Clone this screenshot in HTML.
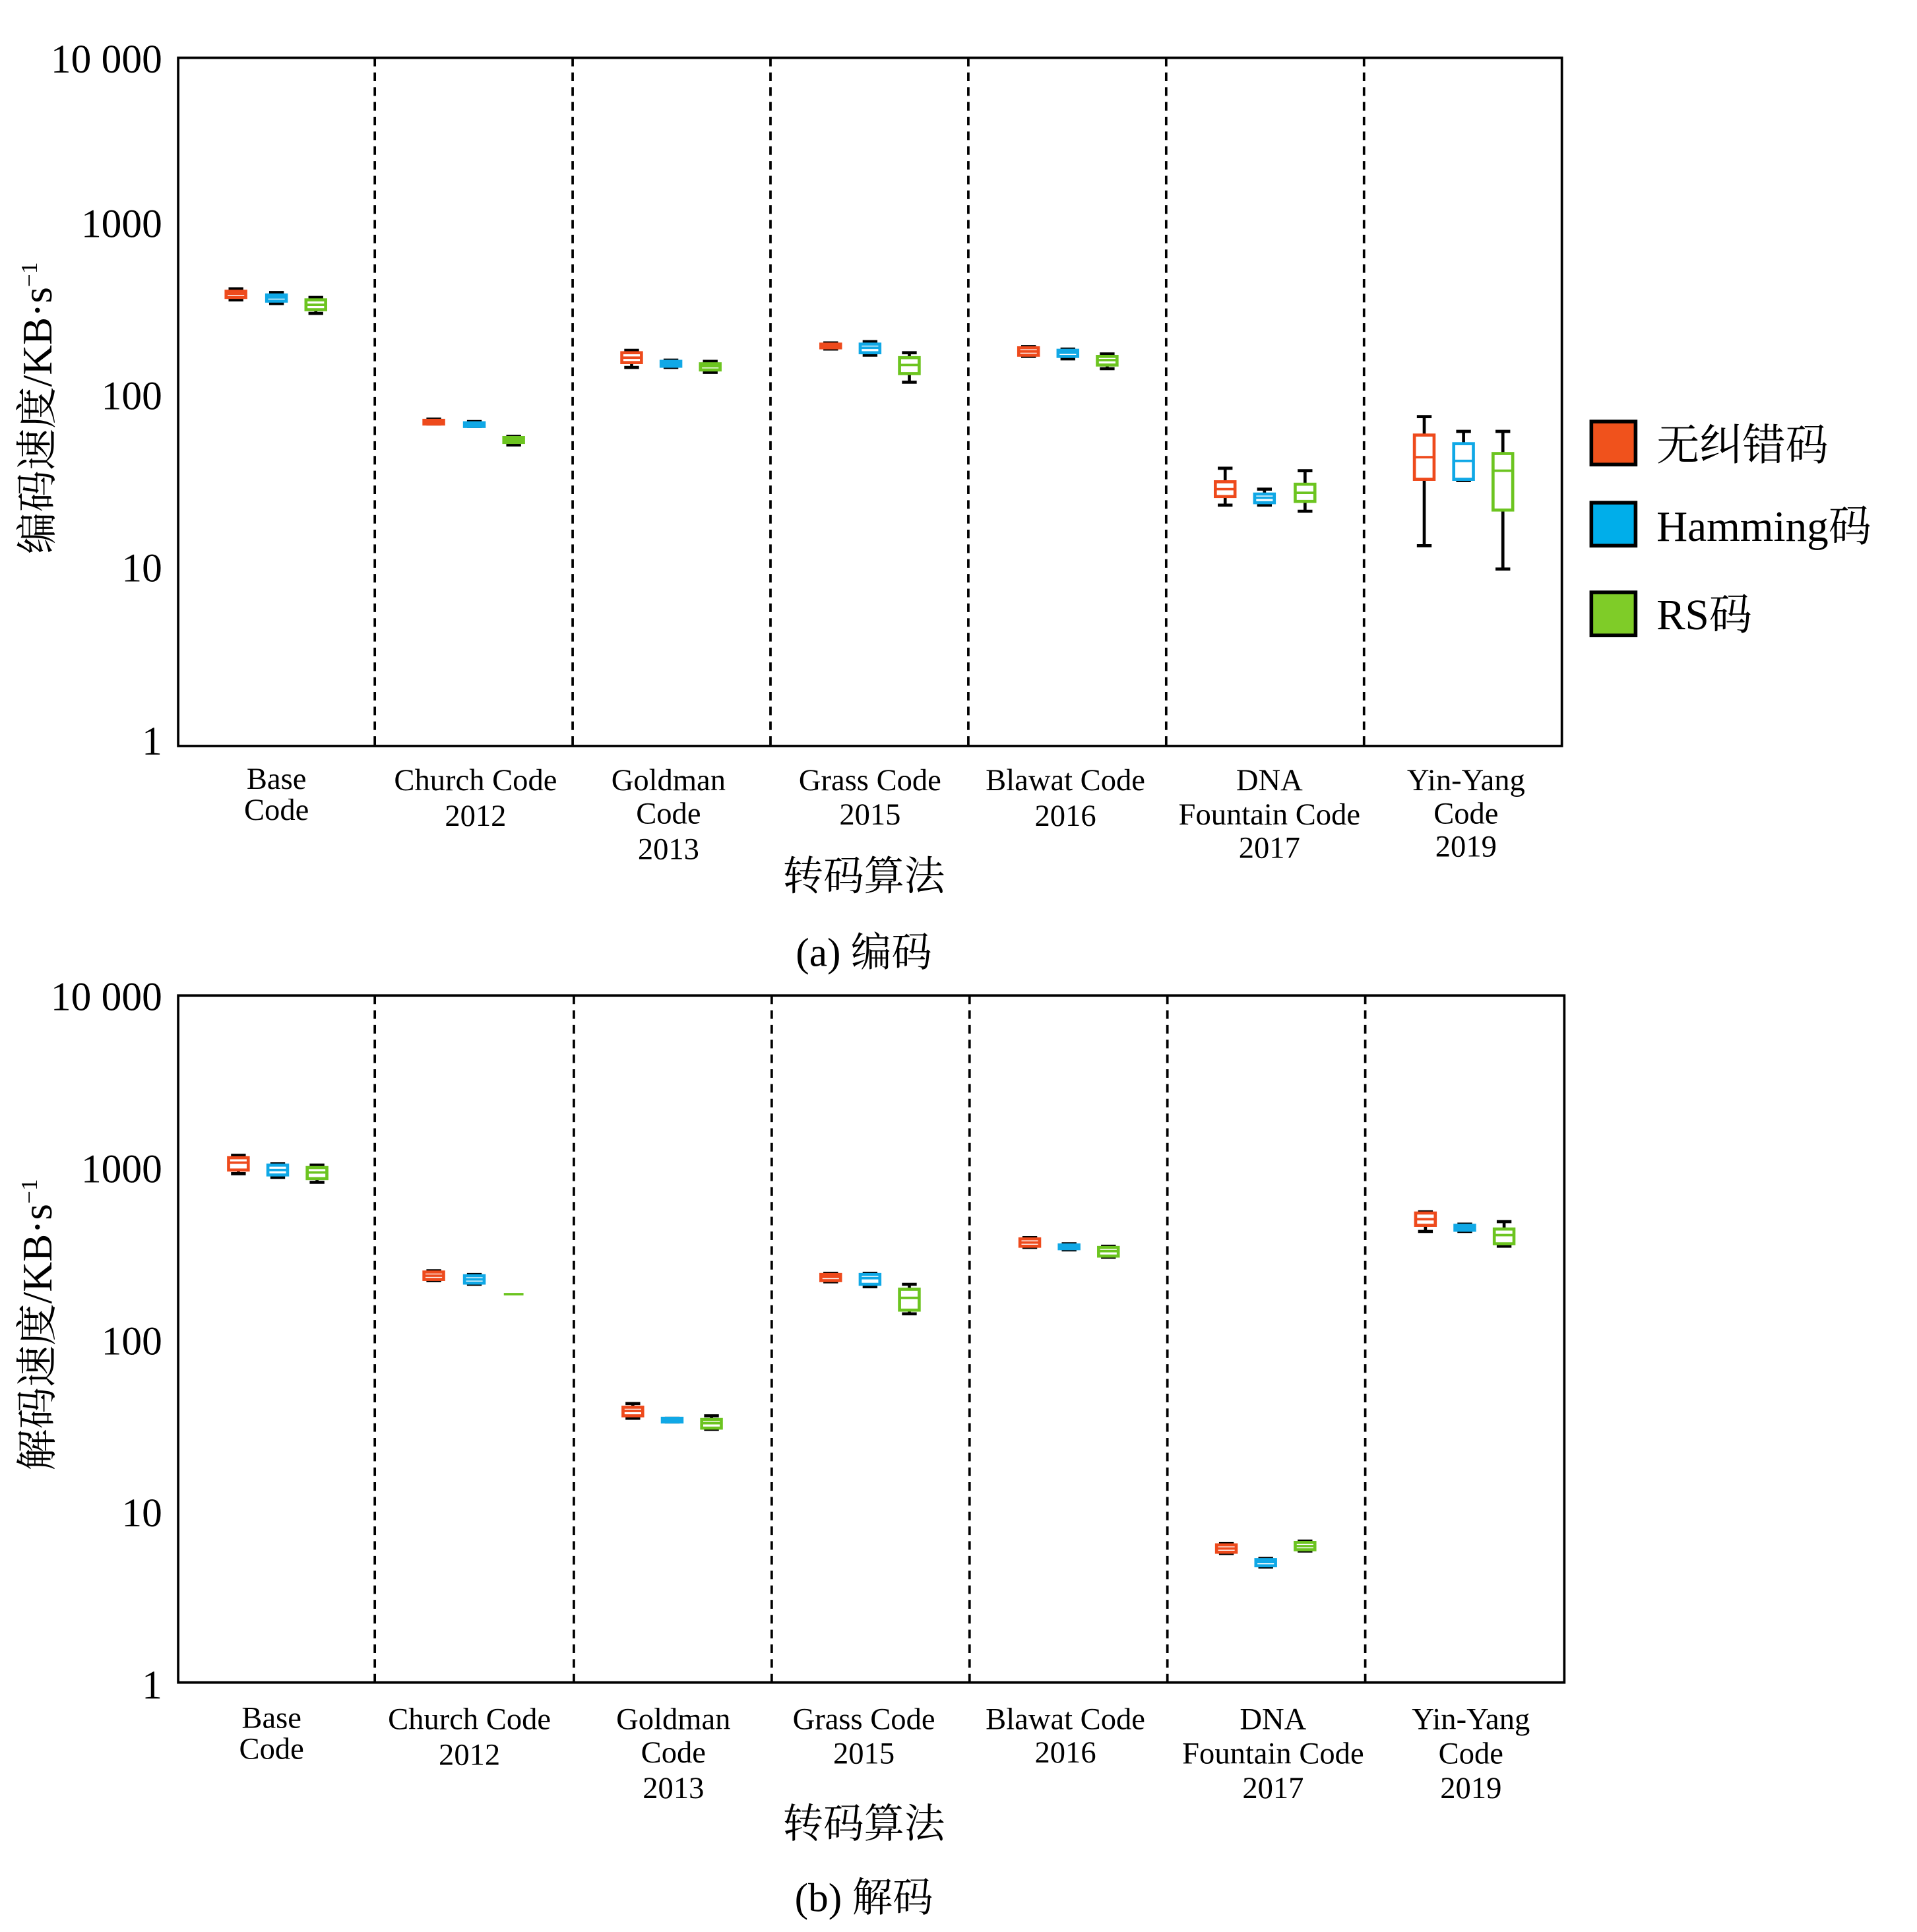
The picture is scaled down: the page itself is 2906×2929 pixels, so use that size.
<!DOCTYPE html>
<html><head><meta charset="utf-8"><style>
html,body{margin:0;padding:0;background:#fff;width:2906px;height:2929px;overflow:hidden}
svg{display:block}
text{font-family:"Liberation Serif","Noto Serif CJK SC","Noto Sans CJK SC",serif;fill:#000}
</style></head><body>
<svg id="s" width="2906" height="2929" viewBox="0 0 1560 1572" preserveAspectRatio="none" xmlns="http://www.w3.org/2000/svg">
<rect width="1560" height="1572" fill="#fff"/>
<!-- Panel a -->
<rect x="145" y="47" width="1126" height="560" fill="none" stroke="#000" stroke-width="2"/>
<g stroke="#000" stroke-width="2" stroke-dasharray="7,5">
<line x1="305" y1="47" x2="305" y2="607"/><line x1="466" y1="47" x2="466" y2="607"/><line x1="627" y1="47" x2="627" y2="607"/><line x1="788" y1="47" x2="788" y2="607"/><line x1="949" y1="47" x2="949" y2="607"/><line x1="1110" y1="47" x2="1110" y2="607"/>
</g>
<g font-size="33" text-anchor="end">
<text x="132" y="59">10 000</text><text x="132" y="193">1000</text><text x="132" y="333">100</text><text x="132" y="473">10</text><text x="132" y="614">1</text>
</g>
<g font-size="25" text-anchor="middle">
<text x="225" y="642">Base</text><text x="225" y="667">Code</text>
<text x="387" y="643">Church Code</text><text x="387" y="672">2012</text>
<text x="544" y="643">Goldman</text><text x="544" y="670">Code</text><text x="544" y="699">2013</text>
<text x="708" y="643">Grass Code</text><text x="708" y="671">2015</text>
<text x="867" y="643">Blawat Code</text><text x="867" y="672">2016</text>
<text x="1033" y="643">DNA</text><text x="1033" y="671">Fountain Code</text><text x="1033" y="698">2017</text>
<text x="1193" y="643">Yin-Yang</text><text x="1193" y="670">Code</text><text x="1193" y="697">2019</text>
</g>
<text x="703" y="724" font-size="33" text-anchor="middle">转码算法</text>
<text x="703" y="786" font-size="33" text-anchor="middle">(a) 编码</text>
<text transform="translate(42,332) rotate(-90)" font-size="34" text-anchor="middle">编码速度/KB·s<tspan dy="-12" font-size="19">−1</tspan></text>

<!-- Panel b -->
<rect x="145" y="810" width="1128" height="559" fill="none" stroke="#000" stroke-width="2"/>
<g stroke="#000" stroke-width="2" stroke-dasharray="7,5">
<line x1="305" y1="810" x2="305" y2="1369"/><line x1="467" y1="810" x2="467" y2="1369"/><line x1="628" y1="810" x2="628" y2="1369"/><line x1="789" y1="810" x2="789" y2="1369"/><line x1="950" y1="810" x2="950" y2="1369"/><line x1="1111" y1="810" x2="1111" y2="1369"/>
</g>
<g font-size="33" text-anchor="end">
<text x="132" y="822">10 000</text><text x="132" y="962">1000</text><text x="132" y="1102">100</text><text x="132" y="1242">10</text><text x="132" y="1382">1</text>
</g>
<g font-size="25" text-anchor="middle">
<text x="221" y="1406">Base</text><text x="221" y="1431">Code</text>
<text x="382" y="1407">Church Code</text><text x="382" y="1436">2012</text>
<text x="548" y="1407">Goldman</text><text x="548" y="1434">Code</text><text x="548" y="1463">2013</text>
<text x="703" y="1407">Grass Code</text><text x="703" y="1435">2015</text>
<text x="867" y="1407">Blawat Code</text><text x="867" y="1434">2016</text>
<text x="1036" y="1407">DNA</text><text x="1036" y="1435">Fountain Code</text><text x="1036" y="1463">2017</text>
<text x="1197" y="1407">Yin-Yang</text><text x="1197" y="1435">Code</text><text x="1197" y="1463">2019</text>
</g>
<text x="703" y="1495" font-size="33" text-anchor="middle">转码算法</text>
<text x="703" y="1555" font-size="33" text-anchor="middle">(b) 解码</text>
<text transform="translate(42,1078) rotate(-90)" font-size="34" text-anchor="middle">解码速度/KB·s<tspan dy="-12" font-size="19">−1</tspan></text>

<!-- Legend -->
<rect x="1295" y="343" width="36" height="35" fill="#f0521c" stroke="#000" stroke-width="3"/>
<rect x="1295" y="409" width="36" height="35" fill="#00aeea" stroke="#000" stroke-width="3"/>
<rect x="1295" y="482" width="36" height="35" fill="#7fcc28" stroke="#000" stroke-width="3"/>
<g font-size="35"><text x="1348" y="374">无纠错码</text><text x="1348" y="440">Hamming码</text><text x="1348" y="512">RS码</text></g>
<g id="boxes"></g>
</svg>
<script>
var C=["#ee4a1c","#10a8e6","#6cc420"];
var a=[[192,235,237,239,242,244],[225,238,240,242,245,247],[257,242,244,248,252,255],
[353,341,342,343,344,345],[386,343,344,345,346,347],[418,355,356,358,360,362],
[514,285,287,291,295,299],[546,293,294,296,298,299],[578,294,296,298,301,303],
[676,279,280,281,283,284],[708,278,280,283,287,289],[740,287,291,297,304,311],
[837,282,283,286,289,290],[869,284,285,287,290,292],[901,288,290,293,297,300],
[997,381,392,398,404,411],[1029,398,402,405,409,411],[1062,383,394,401,408,416],
[1159,339,354,372,390,444],[1191,351,361,375,390,391],[1223,351,369,383,415,463],
[194,940,942,946,952,955],[226,947,948,952,956,958],[258,948,950,954,959,962],
[353,1034,1035,1038,1041,1042],[386,1037,1038,1041,1044,1045],[418,1053,1053,1053,1053,1053],
[515,1142,1145,1148,1152,1154],[547,1154,1154,1155,1157,1157],[579,1152,1155,1158,1162,1163],
[676,1036,1037,1039,1042,1043],[708,1036,1037,1040,1045,1047],[740,1045,1049,1056,1066,1069],
[838,1007,1008,1011,1014,1015],[870,1012,1013,1014,1016,1017],[902,1014,1015,1018,1022,1023],
[998,1256,1257,1260,1263,1264],[1030,1268,1269,1271,1274,1275],[1062,1254,1255,1258,1261,1262],
[1160,986,987,992,997,1002],[1192,996,997,999,1001,1002],[1224,994,1000,1005,1012,1014]];
var h="";
a.forEach(function(b,i){var c=C[i%3],x=b[0];
if(b[1]==b[5]){h+='<line x1="'+(x-8)+'" y1="'+b[1]+'" x2="'+(x+8)+'" y2="'+b[1]+'" stroke="'+c+'" stroke-width="2"/>';return;}
h+='<line x1="'+x+'" y1="'+b[1]+'" x2="'+x+'" y2="'+b[5]+'" stroke="#000" stroke-width="2.5"/>';
h+='<line x1="'+(x-6)+'" y1="'+b[1]+'" x2="'+(x+6)+'" y2="'+b[1]+'" stroke="#000" stroke-width="2.5"/>';
h+='<line x1="'+(x-6)+'" y1="'+b[5]+'" x2="'+(x+6)+'" y2="'+b[5]+'" stroke="#000" stroke-width="2.5"/>';
var hh=Math.max(b[4]-b[2],3);
h+='<rect x="'+(x-8)+'" y="'+b[2]+'" width="16" height="'+hh+'" fill="#fff" stroke="'+c+'" stroke-width="2.5"/>';
h+='<line x1="'+(x-8)+'" y1="'+b[3]+'" x2="'+(x+8)+'" y2="'+b[3]+'" stroke="'+c+'" stroke-width="2"/>';
});
document.getElementById("boxes").innerHTML=h;
</script>
</body></html>
